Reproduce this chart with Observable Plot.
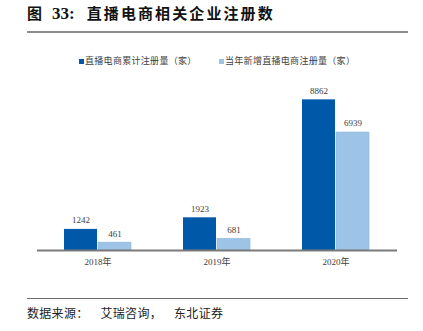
<!DOCTYPE html>
<html><head><meta charset="utf-8">
<script src="https://cdn.jsdelivr.net/npm/d3@7"></script>
<script src="https://cdn.jsdelivr.net/npm/@observablehq/plot@0.6"></script>
<style>
body{margin:0;background:#fff;}
#wrap{position:relative;width:423px;height:331px;overflow:hidden;font-family:"Noto Sans CJK SC",sans-serif;}
#title{position:absolute;left:27px;top:2px;font-size:15px;font-weight:bold;color:#111;white-space:nowrap;line-height:22px;}
#title .fig{margin-right:10px;}
#title .num{font-family:"Liberation Serif",serif;font-size:17px;margin-right:12px;}
#title .txt{letter-spacing:2.1px;}
#rule1{position:absolute;left:27px;top:31px;width:381px;height:2px;background:#8c8c8c;}
#legend{position:absolute;top:53px;left:0;width:423px;height:16px;font-size:9px;color:#404040;}
.item{position:absolute;top:0;display:flex;align-items:center;white-space:nowrap;line-height:16px;letter-spacing:0.3px;}
.sw{width:5px;height:5px;margin-right:1px;display:inline-block;}
#chart{position:absolute;left:0;top:70px;}
#rule2{position:absolute;left:27px;top:298px;width:381px;height:1px;background:#6e6e6e;}
#source{position:absolute;left:27px;top:304px;font-size:12px;color:#222;white-space:nowrap;line-height:18px;letter-spacing:0.3px;}
#source .p{margin-right:12px;}
</style></head>
<body>
<div id="wrap">
  <div id="title"><span class="fig">图</span><span class="num">33:</span><span class="txt">直播电商相关企业注册数</span></div>
  <div id="rule1"></div>
  <div id="legend"></div>
  <div id="chart"></div>
  <div id="rule2"></div>
  <div id="source">数据来源<span class="p">：</span>艾瑞咨询<span class="p">，</span>东北证券</div>
</div>
<script>
const years = ["2018年", "2019年", "2020年"];
const cumulative = [1242, 1923, 8862];
const newlyAdded = [461, 681, 6939];
const seriesNames = ["直播电商累计注册量（家）", "当年新增直播电商注册量（家）"];
const colors = ["#0058A9", "#9DC3E6"];
const legendLeft = [79, 219];

const rows0 = years.map((y, i) => ({year: y, value: cumulative[i], series: seriesNames[0]}));
const rows1 = years.map((y, i) => ({year: y, value: newlyAdded[i], series: seriesNames[1]}));

// legend
const legend = document.getElementById("legend");
seriesNames.forEach((s, i) => {
  const it = document.createElement("div");
  it.className = "item";
  it.style.left = legendLeft[i] + "px";
  const sw = document.createElement("span");
  sw.className = "sw";
  sw.style.background = colors[i];
  it.appendChild(sw);
  it.appendChild(document.createTextNode(s));
  legend.appendChild(it);
});

const chart = Plot.plot({
  width: 423,
  height: 200,
  marginLeft: 37,
  marginRight: 26,
  marginTop: 10,
  marginBottom: 20,
  style: {fontFamily: "'Liberation Serif','Noto Sans CJK SC',serif", fontSize: "9px", color: "#404040", background: "transparent"},
  x: {domain: years, paddingInner: 0.433, paddingOuter: 0.2167, label: null, tickSize: 0, tickPadding: 8},
  y: {domain: [0, 10000], axis: null},
  color: {domain: seriesNames, range: colors},
  marks: [
    Plot.barY(rows0, {x: "year", y: "value", fill: "series", insetLeft: 0, insetRight: 34}),
    Plot.barY(rows1, {x: "year", y: "value", fill: "series", insetLeft: 34, insetRight: 0, stroke: "#8DB6DD", strokeWidth: 0.6}),
    Plot.ruleY([0], {stroke: "#7a7a7a", strokeWidth: 2}),
    Plot.text(rows0, {x: "year", y: "value", text: d => String(d.value), dx: -17, dy: -9, fill: "#404040", fontSize: 9}),
    Plot.text(rows1, {x: "year", y: "value", text: d => String(d.value), dx: 17, dy: -9, fill: "#404040", fontSize: 9})
  ]
});
document.getElementById("chart").appendChild(chart);
</script>
</body></html>
